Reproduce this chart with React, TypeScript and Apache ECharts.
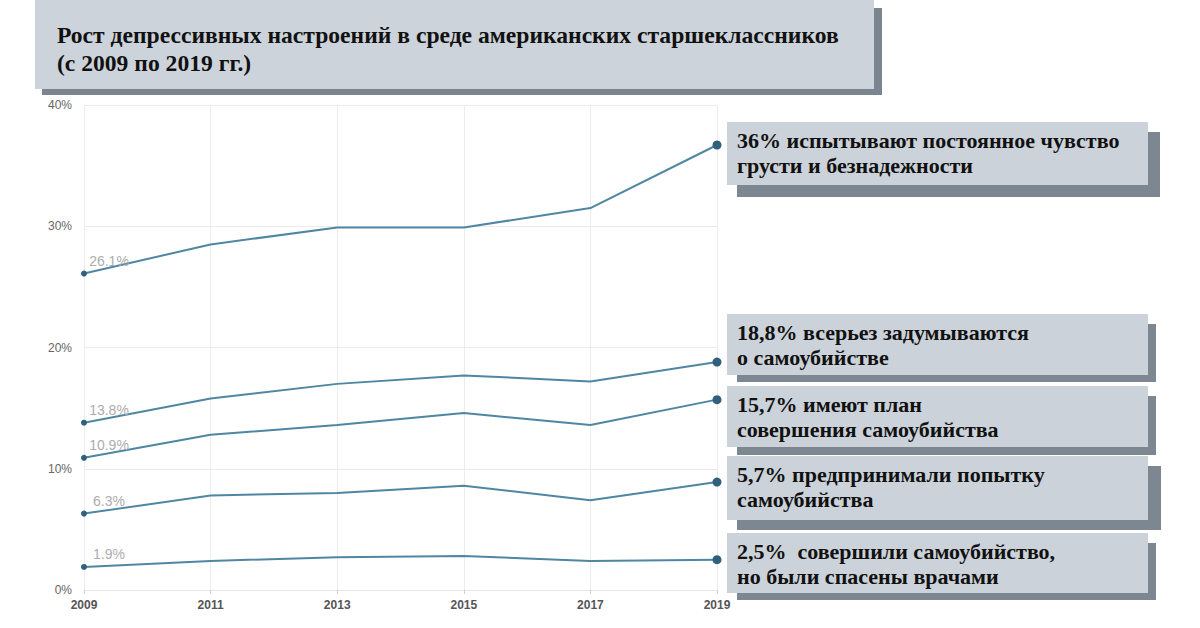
import React, { useEffect, useRef } from "react";
import * as echarts from "echarts";

const years = ["2009", "2011", "2013", "2015", "2017", "2019"];
const sadness = [26.1, 28.5, 29.9, 29.9, 31.5, 36.7];
const consideredSuicide = [13.8, 15.8, 17.0, 17.7, 17.2, 18.8];
const suicidePlan = [10.9, 12.8, 13.6, 14.6, 13.6, 15.7];
const attemptedSuicide = [6.3, 7.8, 8.0, 8.6, 7.4, 8.9];
const injuredAttempt = [1.9, 2.4, 2.7, 2.8, 2.4, 2.5];
const yTicks = [0, 10, 20, 30, 40];

const titleText = "Рост депрессивных настроений в среде американских старшеклассников\n(с 2009 по 2019 гг.)";
const annotations = [
  "36% испытывают постоянное чувство\nгрусти и безнадежности",
  "18,8% всерьез задумываются\nо самоубийстве",
  "15,7% имеют план\nсовершения самоубийства",
  "5,7% предпринимали попытку\nсамоубийства",
  "2,5%  совершили самоубийство,\nно были спасены врачами",
];

// layout of annotation boxes: [top, height, shadowRight, shadowBottom]
const boxLayout = [
  [122, 63, 1160, 197],
  [314, 61, 1156, 382],
  [386, 61, 1156, 455],
  [456, 64, 1161, 530],
  [533, 60, 1156, 600],
];

const LINE = "#4f86a3";
const DOT = "#31607d";
const SERIF = "Liberation Serif";
const SANS = "Liberation Sans";

export default function App() {
  const ref = useRef<HTMLDivElement>(null);
  useEffect(() => {
    if (!ref.current) return;
    const chart = echarts.init(ref.current, null, { renderer: "svg" });
    const allSeries = [sadness, consideredSuicide, suicidePlan, attemptedSuicide, injuredAttempt];

    const series = allSeries.map((vals) => ({
      type: "line",
      data: vals.map((v, i) => ({
        value: v,
        symbolSize: i === 0 ? 6 : i === vals.length - 1 ? 9 : 0,
        label:
          i === 0
            ? {
                show: true,
                position: "top",
                offset: [25, 2],
                formatter: (p: any) => p.value.toFixed(1) + "%",
                color: "#adadad",
                fontSize: 14,
                fontFamily: SANS,
              }
            : { show: false },
      })),
      symbol: "circle",
      showAllSymbol: true,
      lineStyle: { color: LINE, width: 2 },
      itemStyle: { color: DOT },
      z: 3,
    }));

    const graphics: any[] = [];
    graphics.push({
      type: "rect",
      shape: { x: 42, y: 8, width: 840, height: 87 },
      style: { fill: "#7b8590" },
      z: 100,
    });
    graphics.push({
      type: "rect",
      shape: { x: 35, y: 0, width: 839, height: 89 },
      style: { fill: "#cdd3da" },
      z: 101,
    });
    graphics.push({
      type: "text",
      x: 57,
      y: 21,
      style: {
        text: titleText,
        fontFamily: SERIF,
        fontWeight: "bold",
        fontSize: 23.6,
        fill: "#111",
        lineHeight: 28,
        verticalAlign: "top",
      },
      z: 102,
    });

    annotations.forEach((t, k) => {
      const [top, h, sr, sb] = boxLayout[k];
      graphics.push({
        type: "rect",
        shape: { x: 737, y: top + 10, width: sr - 737, height: sb - top - 10 },
        style: { fill: "#7c8791" },
        z: 100 + k * 3,
      });
      graphics.push({
        type: "rect",
        shape: { x: 727, y: top, width: 421, height: h },
        style: { fill: "#ccd2d9" },
        z: 101 + k * 3,
      });
      graphics.push({
        type: "text",
        x: 737,
        y: top + 6,
        style: {
          text: t,
          fontFamily: SERIF,
          fontWeight: "bold",
          fontSize: 22,
          fill: "#111",
          lineHeight: 25,
          verticalAlign: "top",
        },
        z: 102 + k * 3,
      });
    });

    chart.setOption({
      animation: false,
      backgroundColor: "#ffffff",
      grid: { left: 84, right: 483, top: 105, bottom: 38, containLabel: false },
      xAxis: {
        type: "category",
        data: years,
        boundaryGap: false,
        axisLine: { show: true, lineStyle: { color: "#e6e6e6" } },
        axisTick: { show: true, alignWithLabel: true, length: 4, lineStyle: { color: "#d0d0d0" } },
        axisLabel: {
          color: "#555",
          fontSize: 12,
          fontWeight: "bold",
          fontFamily: SANS,
          margin: 9,
        },
        splitLine: { show: true, lineStyle: { color: "#ececec", width: 1 } },
      },
      yAxis: {
        type: "value",
        min: yTicks[0],
        max: yTicks[yTicks.length - 1],
        interval: 10,
        axisLine: { show: false },
        axisTick: { show: false },
        axisLabel: {
          formatter: "{value}%",
          color: "#666",
          fontSize: 12,
          fontFamily: SANS,
          margin: 12,
        },
        splitLine: { show: true, lineStyle: { color: "#efe9ea", width: 1 } },
      },
      series,
      graphic: graphics,
    });
    return () => chart.dispose();
  }, []);
  return (
    <div
      ref={ref}
      style={{ position: "fixed", left: 0, top: 0, width: 1200, height: 628, background: "#fff" }}
    />
  );
}
